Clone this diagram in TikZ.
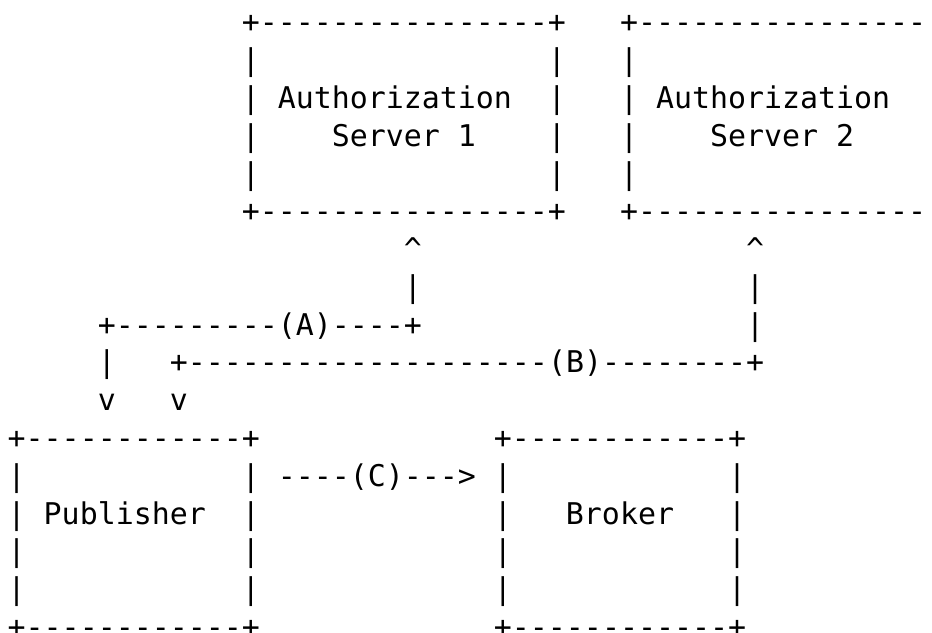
\documentclass[tikz,border=0pt]{standalone}
\usepackage{fontspec}
\setmonofont{DejaVu Sans Mono}
\begin{document}
\begin{tikzpicture}[x=13.4775pt,y=-28.275pt,
  asc/.style={anchor=base west, inner sep=0pt, outer sep=0pt,
    font=\ttfamily\fontsize{22.39pt}{28pt}\selectfont, text=black}]
\useasboundingbox[fill=white] (-0.4285,-0.8727) rectangle (51.3256,15.865);
% Authorization Server 1
\node[asc] (aoneT)  at (13,0) {+----------------+};
\node[asc] (aoneL1) at (13,1) {|};
\node[asc] (aoneR1) at (30,1) {|};
\node[asc] (aoneL2) at (13,2) {|};
\node[asc] (aoneA)  at (15,2) {Authorization};
\node[asc] (aoneR2) at (30,2) {|};
\node[asc] (aoneL3) at (13,3) {|};
\node[asc] (aoneS)  at (18,3) {Server 1};
\node[asc] (aoneR3) at (30,3) {|};
\node[asc] (aoneL4) at (13,4) {|};
\node[asc] (aoneR4) at (30,4) {|};
\node[asc] (aoneB)  at (13,5) {+----------------+};
% Authorization Server 2
\node[asc] (atwoT)  at (34,0) {+----------------};
\node[asc] (atwoL1) at (34,1) {|};
\node[asc] (atwoL2) at (34,2) {|};
\node[asc] (atwoA)  at (36,2) {Authorization};
\node[asc] (atwoL3) at (34,3) {|};
\node[asc] (atwoS)  at (39,3) {Server 2};
\node[asc] (atwoL4) at (34,4) {|};
\node[asc] (atwoB)  at (34,5) {+----------------};
% connector A
\node[asc] (aup)    at (22,6) {\textasciicircum};
\node[asc] (abar)   at (22,7) {|};
\node[asc] (aline)  at (5,8)  {+---------(A)----+};
\node[asc] (adown)  at (5,9)  {|};
\node[asc] (av)     at (5,10) {v};
% connector B
\node[asc] (bup)    at (41,6) {\textasciicircum};
\node[asc] (bbar1)  at (41,7) {|};
\node[asc] (bbar2)  at (41,8) {|};
\node[asc] (bline)  at (9,9)  {+--------------------(B)--------+};
\node[asc] (bv)     at (9,10) {v};
% Publisher
\node[asc] (pubT)   at (0,11) {+------------+};
\node[asc] (pubL1)  at (0,12) {|};
\node[asc] (pubR1)  at (13,12) {|};
\node[asc] (pubL2)  at (0,13) {|};
\node[asc] (pubN)   at (2,13) {Publisher};
\node[asc] (pubR2)  at (13,13) {|};
\node[asc] (pubL3)  at (0,14) {|};
\node[asc] (pubR3)  at (13,14) {|};
\node[asc] (pubL4)  at (0,15) {|};
\node[asc] (pubR4)  at (13,15) {|};
\node[asc] (pubB)   at (0,16) {+------------+};
% connector C
\node[asc] (cline)  at (15,12) {----(C)--->};
% Broker
\node[asc] (brkT)   at (27,11) {+------------+};
\node[asc] (brkL1)  at (27,12) {|};
\node[asc] (brkR1)  at (40,12) {|};
\node[asc] (brkL2)  at (27,13) {|};
\node[asc] (brkN)   at (31,13) {Broker};
\node[asc] (brkR2)  at (40,13) {|};
\node[asc] (brkL3)  at (27,14) {|};
\node[asc] (brkR3)  at (40,14) {|};
\node[asc] (brkL4)  at (27,15) {|};
\node[asc] (brkR4)  at (40,15) {|};
\node[asc] (brkB)   at (27,16) {+------------+};
\end{tikzpicture}
\end{document}
